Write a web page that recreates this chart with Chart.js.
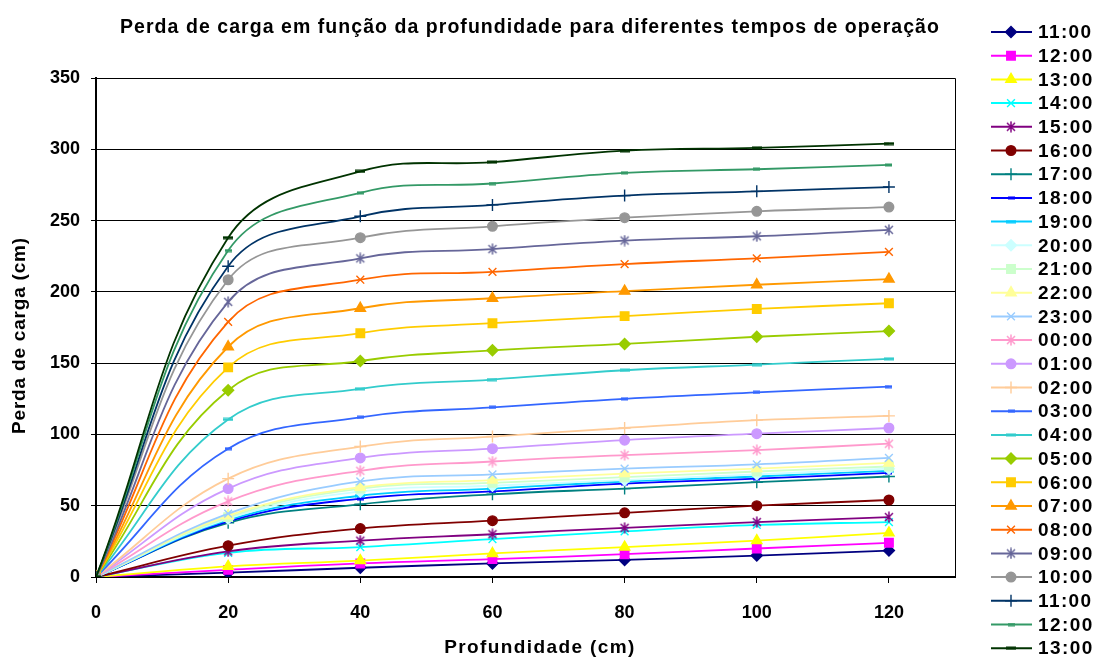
<!DOCTYPE html>
<html>
<head>
<meta charset="utf-8">
<script src="https://cdn.jsdelivr.net/npm/chart.js@4.4.1/dist/chart.umd.min.js"></script>
<style>
  html, body { margin: 0; padding: 0; background: #ffffff; }
  #area { width: 1094px; height: 659px; }
</style>
</head>
<body>
<div id="area"><canvas id="graficoPerda"></canvas></div>
<script>
// Profundidade (cm) e marcas dos eixos
const profundidades = [0, 20, 40, 60, 80, 100, 120];
const ticksX = [0, 20, 40, 60, 80, 100, 120];
const ticksY = [0, 50, 100, 150, 200, 250, 300, 350];

// Perda de carga (cm) em cada tempo de operação
const p1100 = [0, 3, 6.5, 9.5, 12, 15, 18.5];
const p1200 = [0, 5, 9.5, 12.5, 16, 20, 24];
const p1300 = [0, 7.5, 11.5, 16.5, 21, 25.5, 31];
const p1400 = [0, 17, 21, 26.5, 32, 36.5, 38.5];
const p1500 = [0, 18, 25.5, 30, 34.5, 38.5, 42];
const p1600 = [0, 22, 34, 39.5, 45, 50, 54];
const p1700 = [0, 38, 51, 58, 62, 66.5, 70.5];
const p1800 = [0, 39, 55, 60, 65.5, 69, 73];
const p1900 = [0, 40, 57, 62, 67, 70.5, 74.5];
const p2000 = [0, 41, 60, 64, 68, 72, 76];
const p2100 = [0, 42, 62, 66, 70, 74, 77.5];
const p2200 = [0, 43, 63, 68, 72.5, 76, 80];
const p2300 = [0, 44.5, 67, 72, 76, 79, 83.5];
const p0000 = [0, 53, 74.5, 81, 85.5, 89, 93.5];
const p0100 = [0, 62, 83.5, 90, 96, 100.5, 104.5];
const p0200 = [0, 69, 91.5, 98.5, 104.5, 110, 113];
const p0300 = [0, 90, 112, 119, 125, 129.5, 133.5];
const p0400 = [0, 110.5, 132, 138.5, 145, 149, 153];
const p0500 = [0, 131, 151.5, 159, 163.5, 168.5, 172.5];
const p0600 = [0, 147, 171, 178, 183, 188, 192];
const p0700 = [0, 161.5, 188.5, 195.5, 200.5, 205, 209];
const p0800 = [0, 179, 208.5, 214, 219.5, 223.5, 228];
const p0900 = [0, 193, 223.5, 230, 236, 239, 243.5];
const p1000 = [0, 208.5, 238, 246, 252, 256.5, 259.5];
const p1100b = [0, 218, 253, 261, 267.5, 270.5, 273.5];
const p1200b = [0, 229, 269.5, 276, 283.5, 286, 289];
const p1300b = [0, 238, 284.5, 291, 299, 301, 304];

const horarios = ['11:00', '12:00', '13:00', '14:00', '15:00', '16:00', '17:00', '18:00', '19:00',
  '20:00', '21:00', '22:00', '23:00', '00:00', '01:00', '02:00', '03:00', '04:00',
  '05:00', '06:00', '07:00', '08:00', '09:00', '10:00', '11:00', '12:00', '13:00'];
const perdas = [p1100, p1200, p1300, p1400, p1500, p1600, p1700, p1800, p1900,
  p2000, p2100, p2200, p2300, p0000, p0100, p0200, p0300, p0400,
  p0500, p0600, p0700, p0800, p0900, p1000, p1100b, p1200b, p1300b];

const cores = ['#000080', '#FF00FF', '#FFFF00', '#00FFFF', '#800080', '#800000', '#008080', '#0000FF', '#00CCFF',
  '#CCFFFF', '#CCFFCC', '#FFFF99', '#99CCFF', '#FF99CC', '#CC99FF', '#FFCC99', '#3366FF', '#33CCCC',
  '#99CC00', '#FFCC00', '#FF9900', '#FF6600', '#666699', '#969696', '#003366', '#339966', '#003300'];
// sequência de marcadores do Excel, repetida a cada 9 séries
const tiposMarcador = ['losango', 'quadrado', 'triangulo', 'xis', 'asterisco', 'circulo', 'mais', 'tracoCurto', 'tracoLongo'];

// marcadores desenhados em pequenos canvas
function marcadorCanvas(tipo, cor) {
  const c = document.createElement('canvas');
  const g = c.getContext('2d');
  if (tipo === 'tracoCurto' || tipo === 'tracoLongo') {
    const w = tipo === 'tracoCurto' ? 7 : 10;
    c.width = w; c.height = 4;
    g.fillStyle = cor;
    g.fillRect(0, 0.5, w, 3);
  } else if (tipo === 'asterisco') {
    c.width = 12; c.height = 12;
    g.strokeStyle = cor;
    g.lineWidth = 1.5;
    g.beginPath();
    g.moveTo(2, 2); g.lineTo(10, 10);
    g.moveTo(10, 2); g.lineTo(2, 10);
    g.moveTo(6, 0.5); g.lineTo(6, 11.5);
    g.stroke();
  }
  return c;
}

function estiloPonto(tipo, cor) {
  switch (tipo) {
    case 'losango': return { style: 'rectRot', r: 5.5 };
    case 'quadrado': return { style: 'rect', r: 6 };
    case 'triangulo': return { style: 'triangle', r: 6 };
    case 'xis': return { style: 'crossRot', r: 5.5 };
    case 'circulo': return { style: 'circle', r: 4.8 };
    case 'mais': return { style: 'cross', r: 6 };
    default: return { style: marcadorCanvas(tipo, cor), r: 5 };
  }
}

const series = horarios.map((h, i) => {
  const cor = cores[i];
  const m = estiloPonto(tiposMarcador[i % 9], cor);
  return {
    label: h,
    data: profundidades.map((x, k) => ({ x: x, y: perdas[i][k] })),
    borderColor: cor,
    backgroundColor: cor,
    pointBorderColor: cor,
    pointBackgroundColor: cor,
    borderWidth: 1.8,
    pointStyle: m.style,
    pointRadius: m.r,
    pointBorderWidth: 1.4,
    tension: 0.4,
    order: horarios.length - i
  };
});

const fonte = '"Liberation Sans", Arial, sans-serif';

// título, rótulos dos eixos e legenda à direita
const textosELegenda = {
  id: 'textosELegenda',
  afterDraw(chart) {
    const ctx = chart.ctx;
    const area = chart.chartArea;
    ctx.save();

    // borda da área de plotagem
    ctx.strokeStyle = '#000';
    ctx.lineWidth = 1;
    ctx.beginPath();
    ctx.moveTo(area.left, area.top + 0.5);
    ctx.lineTo(area.right + 0.5, area.top + 0.5);
    ctx.lineTo(area.right + 0.5, area.bottom);
    ctx.stroke();

    ctx.fillStyle = '#000';
    ctx.textAlign = 'center';
    ctx.textBaseline = 'middle';
    ctx.font = 'bold 19.5px ' + fonte;
    ctx.letterSpacing = '1.05px';
    ctx.fillText('Perda de carga em função da profundidade para diferentes tempos de operação', 530, 28);

    ctx.font = 'bold 19px ' + fonte;
    ctx.letterSpacing = '1.4px';
    ctx.fillText('Profundidade (cm)', 540, 648);
    ctx.save();
    ctx.translate(20, (area.top + area.bottom) / 2 + 8);
    ctx.rotate(-Math.PI / 2);
    ctx.letterSpacing = '0.8px';
    ctx.fillText('Perda de carga (cm)', 0, 0);
    ctx.restore();

    const x0 = area.right + 36;
    chart.data.datasets.forEach((ds, i) => {
      const y = 32 + i * 23.7;
      ctx.strokeStyle = ds.borderColor;
      ctx.fillStyle = ds.borderColor;
      ctx.lineWidth = 2;
      ctx.beginPath();
      ctx.moveTo(x0, y);
      ctx.lineTo(x0 + 41, y);
      ctx.stroke();
      ctx.lineWidth = ds.pointBorderWidth;
      Chart.helpers.drawPoint(ctx, {
        pointStyle: ds.pointStyle,
        radius: ds.pointRadius,
        borderWidth: ds.pointBorderWidth,
        rotation: 0
      }, x0 + 20, y);
      ctx.fillStyle = '#000';
      ctx.font = 'bold 19px ' + fonte;
      ctx.letterSpacing = '1.4px';
      ctx.textAlign = 'left';
      ctx.fillText(ds.label, x0 + 47, y + 1);
    });
    ctx.restore();
  }
};

new Chart(document.getElementById('graficoPerda'), {
  type: 'line',
  data: { datasets: series },
  options: {
    responsive: true,
    maintainAspectRatio: false,
    animation: false,
    layout: { padding: { left: 0, top: 78, right: 139, bottom: 0 } },
    plugins: {
      legend: { display: false },
      title: { display: false },
      tooltip: { enabled: false }
    },
    scales: {
      x: {
        type: 'linear',
        min: 0,
        max: 130,
        afterBuildTicks: s => { s.ticks = ticksX.map(v => ({ value: v })); },
        afterFit: s => { s.height = 82; },
        grid: { drawOnChartArea: false, drawTicks: true, tickLength: 6, color: '#000' },
        border: { display: true, color: '#000', width: 2 },
        ticks: { color: '#000', padding: 19, font: { family: fonte, size: 18, weight: 'bold' }, maxRotation: 0 }
      },
      y: {
        min: 0,
        max: 350,
        afterBuildTicks: s => { s.ticks = ticksY.map(v => ({ value: v })); },
        afterFit: s => { s.width = 96; },
        grid: { color: '#000', lineWidth: 1, drawTicks: true, tickLength: 5 },
        border: { display: true, color: '#000', width: 2 },
        ticks: { color: '#000', padding: 11, font: { family: fonte, size: 18, weight: 'bold' } }
      }
    }
  },
  plugins: [textosELegenda]
});
</script>
</body>
</html>
